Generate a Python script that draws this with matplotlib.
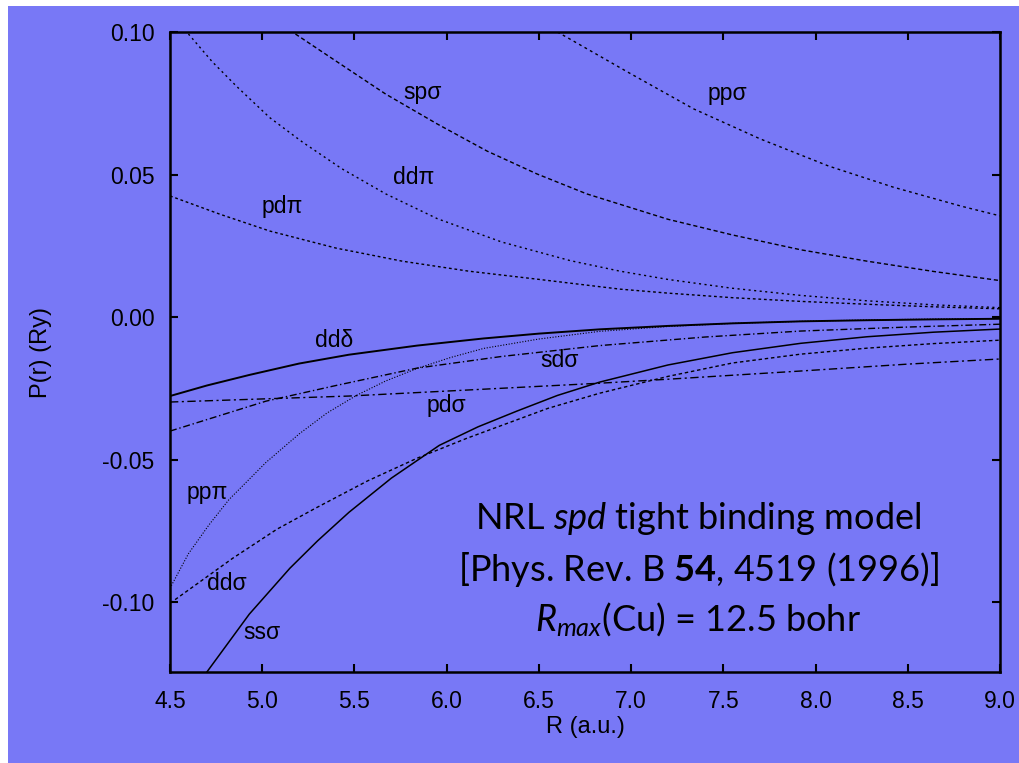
import matplotlib
matplotlib.use("Agg")
import matplotlib.pyplot as plt
from matplotlib.patches import Rectangle

plt.rcParams['font.family'] = ['Liberation Sans', 'DejaVu Sans']
plt.rcParams['axes.unicode_minus'] = False
plt.rcParams['mathtext.fontset'] = 'custom'
plt.rcParams['mathtext.rm'] = 'Lato'
plt.rcParams['mathtext.it'] = 'Lato:italic'
plt.rcParams['mathtext.bf'] = 'Lato:bold'

BG = '#7878f6'

# values: R (a.u.) and P(r) (Ry) per hopping parameter
r_ppsig = [6.60, 6.65, 6.98, 7.34, 7.70, 8.07, 8.42, 8.79, 9.00]
p_ppsig = [0.1000, 0.0982, 0.0860, 0.0730, 0.0625, 0.0530, 0.0456, 0.0389, 0.0355]

r_spsig = [5.18, 5.40, 5.67, 5.95, 6.22, 6.49, 6.76, 7.20, 7.55, 7.92, 8.28, 8.64, 9.00]
p_spsig = [0.0993, 0.0898, 0.0782, 0.0677, 0.0582, 0.0502, 0.0432, 0.0343, 0.0288, 0.0236, 0.0196, 0.0160, 0.0128]

r_ddpi = [4.60, 4.73, 4.86, 5.04, 5.22, 5.43, 5.67, 5.95, 6.30, 6.67, 6.94, 7.20, 7.55, 7.92, 8.28, 8.64, 9.00]
p_ddpi = [0.0993, 0.0895, 0.0810, 0.0700, 0.0613, 0.0521, 0.0432, 0.0345, 0.0263, 0.0198, 0.0161, 0.0132, 0.0101, 0.0076, 0.0057, 0.0043, 0.0033]

r_pdpi = [4.50, 4.77, 5.04, 5.40, 5.76, 6.12, 6.49, 6.94, 7.20, 7.55, 7.92, 8.28, 8.64, 9.00]
p_pdpi = [0.0425, 0.0361, 0.0302, 0.0242, 0.0196, 0.0161, 0.0133, 0.0098, 0.0084, 0.0068, 0.0055, 0.0045, 0.0036, 0.0029]

r_dddel = [4.50, 4.70, 4.93, 5.20, 5.47, 5.84, 6.20, 6.50, 6.83, 7.20, 7.55, 7.92, 8.28, 8.64, 9.00]
p_dddel = [-0.0277, -0.0240, -0.0203, -0.0163, -0.0132, -0.0100, -0.0075, -0.0058, -0.0043, -0.0031,
           -0.0022, -0.0015, -0.0011, -0.0008, -0.0006]

r_sdsig = [4.50, 5.02, 5.40, 5.84, 6.30, 6.83, 7.40, 7.92, 8.50, 9.00]
p_sdsig = [-0.0400, -0.0295, -0.0240, -0.0179, -0.0138, -0.0100, -0.0070, -0.0049, -0.0035, -0.0025]

r_pdsig = [4.50, 5.47, 6.20, 6.83, 7.20, 7.90, 8.50, 9.00]
p_pdsig = [-0.0298, -0.0277, -0.0253, -0.0232, -0.0218, -0.0190, -0.0165, -0.0147]

r_pppi = [4.50, 4.60, 4.71, 4.82, 5.02, 5.20, 5.35, 5.51, 5.67, 5.84, 6.02, 6.20, 6.50, 6.83, 7.20, 7.55, 7.92, 8.28, 8.64, 9.00]
p_pppi = [-0.0951, -0.0830, -0.0730, -0.0640, -0.0510, -0.0410, -0.0337, -0.0275, -0.0224, -0.0180, -0.0142,
          -0.0110, -0.0077, -0.0050, -0.0033, -0.0022, -0.0015, -0.0010, -0.0007, -0.0005]

r_ddsig = [4.50, 4.84, 5.08, 5.29, 5.57, 5.84, 6.11, 6.29, 6.55, 6.83, 7.20, 7.55, 7.92, 8.28, 8.64, 9.00]
p_ddsig = [-0.1004, -0.0846, -0.0744, -0.0670, -0.0575, -0.0495, -0.0425, -0.0382, -0.0320, -0.0267, -0.0208,
           -0.0161, -0.0130, -0.0109, -0.0093, -0.0081]

r_sssig = [4.70, 4.93, 5.15, 5.30, 5.47, 5.70, 5.96, 6.17, 6.38, 6.60, 6.83, 7.20, 7.55, 7.92, 8.28, 8.64, 9.00]
p_sssig = [-0.1245, -0.1042, -0.0881, -0.0785, -0.0685, -0.0565, -0.0450, -0.0385, -0.0330, -0.0275, -0.0228,
           -0.0168, -0.0125, -0.0092, -0.0069, -0.0053, -0.0042]

curve_labels = ['spσ', 'ppσ', 'ddπ', 'pdπ', 'ddδ', 'sdσ', 'pdσ', 'ppπ', 'ddσ', 'ssσ']
label_r = [5.87, 7.52, 5.82, 5.11, 5.39, 6.61, 6.00, 4.70, 4.81, 5.00]
label_p = [0.0789, 0.0786, 0.0491, 0.0389, -0.0081, -0.0151, -0.0309, -0.0614, -0.0933, -0.1105]

x_ticks = [4.5, 5.0, 5.5, 6.0, 6.5, 7.0, 7.5, 8.0, 8.5, 9.0]
y_ticks = [-0.10, -0.05, 0.00, 0.05, 0.10]

fig = plt.figure(figsize=(10.2, 7.63), dpi=100, facecolor='white')
fig.patches.append(Rectangle((8 / 1020, 0), 1, 1 - 6 / 763, transform=fig.transFigure,
                             facecolor=BG, edgecolor='none', zorder=-10))
ax = fig.add_axes([170 / 1020, 1 - 672 / 763, 830 / 1020, 640 / 763])
ax.set_facecolor(BG)

lw = 1.0
ax.plot(r_ppsig, p_ppsig, color='black', lw=lw, ls=(0, (2, 2.5)))
ax.plot(r_spsig, p_spsig, color='black', lw=lw, ls=(0, (3, 2)))
ax.plot(r_ddpi, p_ddpi, color='black', lw=lw, ls=(0, (1.5, 2.5)))
ax.plot(r_pdpi, p_pdpi, color='black', lw=lw, ls=(0, (2, 2)))
ax.plot(r_dddel, p_dddel, color='black', lw=1.4, ls='-')
ax.plot(r_sdsig, p_sdsig, color='black', lw=lw, ls=(0, (5, 2, 1, 2)))
ax.plot(r_pdsig, p_pdsig, color='black', lw=lw, ls=(0, (6, 2.5, 1.5, 2.5)))
ax.plot(r_pppi, p_pppi, color='black', lw=0.8, ls=(0, (1, 1.5)))
ax.plot(r_ddsig, p_ddsig, color='black', lw=lw, ls=(0, (2.5, 2)))
ax.plot(r_sssig, p_sssig, color='black', lw=1.1, ls='-')

for lab, xr, yp in zip(curve_labels, label_r, label_p):
    ax.text(xr, yp, lab, fontsize=16.5, ha='center', va='center')

ax.set_xlim(4.5, 9.0)
ax.set_ylim(-0.1245, 0.10)
ax.set_xticks(x_ticks)
ax.set_xticklabels(['%.1f' % v for v in x_ticks])
ax.set_yticks(y_ticks)
ax.set_yticklabels(['%.2f' % v for v in y_ticks])
ax.tick_params(direction='in', length=6, width=1.5, top=True, right=True, labelsize=16.5)
ax.tick_params(axis='y', pad=11)
ax.tick_params(axis='x', pad=13)
for s in ax.spines.values():
    s.set_linewidth(1.8)

ax.set_xlabel('R (a.u.)', fontsize=17, labelpad=2)
ax.set_ylabel('P(r) (Ry)', fontsize=17)
ax.yaxis.set_label_coords(-0.142, 0.5)

note_kw = dict(fontsize=26, family=['Lato', 'DejaVu Sans'], ha='center', va='baseline')
ax.text(7.364, -0.0744, r'NRL $\mathit{spd}$ tight binding model', **note_kw)
ax.text(7.364, -0.0926, r'[Phys. Rev. B $\mathbf{54}$, 4519 (1996)]', **note_kw)
ax.text(7.364, -0.1102, r'$R_{max}$(Cu) = 12.5 bohr', **note_kw)

fig.savefig('out.png', dpi=100, facecolor=fig.get_facecolor())
